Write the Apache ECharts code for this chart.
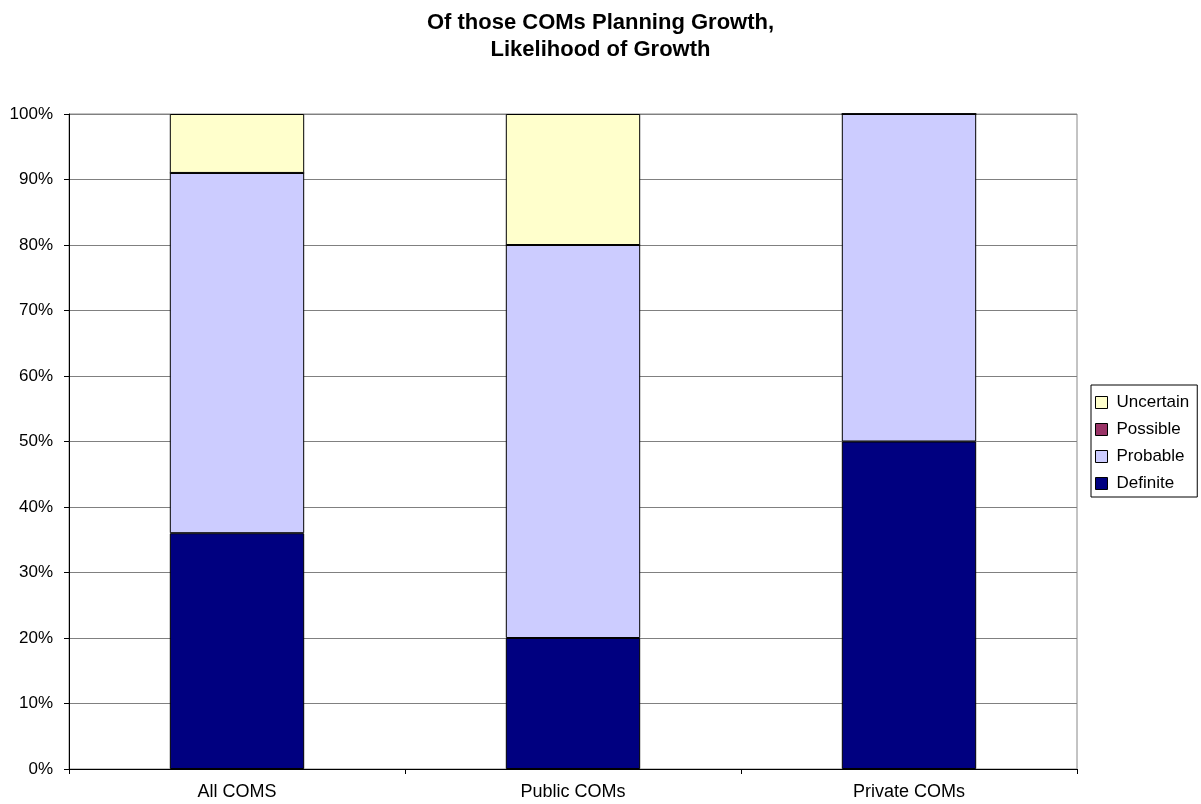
<!DOCTYPE html>
<html>
<head>
<meta charset="utf-8">
<script src="https://cdn.jsdelivr.net/npm/echarts@6/dist/echarts.min.js"></script>
<style>html,body{margin:0;padding:0;background:#fff}#c{width:1201px;height:804px}</style>
</head>
<body>
<div id="c"></div>
<script>
const categories = ['All COMS', 'Public COMs', 'Private COMs'];
const definite = [36, 20, 50];
const probable = [55, 60, 50];
const possible = [0, 0, 0];
const uncertain = [9, 20, 0];
const yTicks = [0, 10, 20, 30, 40, 50, 60, 70, 80, 90, 100];

const chart = echarts.init(document.getElementById('c'));
const font = 'Liberation Sans, Arial, sans-serif';
function bar(name, data, color) {
  return {
    name: name, type: 'bar', stack: 'a', data: data, barWidth: '40%',
    itemStyle: { color: color, borderColor: '#000', borderWidth: 1 },
    emphasis: { disabled: true }
  };
}
chart.setOption({
  animation: false,
  textStyle: { fontFamily: font },
  title: {
    text: 'Of those COMs Planning Growth,\nLikelihood of Growth',
    left: 'center', top: 4,
    textStyle: { fontFamily: font, fontSize: 22, fontWeight: 'bold', color: '#000', lineHeight: 27 }
  },
  legend: {
    orient: 'vertical', left: 1091, top: 385,
    data: ['Uncertain', 'Possible', 'Probable', 'Definite'],
    icon: 'rect', itemWidth: 12, itemHeight: 12, itemGap: 10,
    padding: [9, 8, 5, 4],
    borderColor: '#000', borderWidth: 1,
    itemStyle: { borderColor: '#000', borderWidth: 1 },
    textStyle: { fontFamily: font, fontSize: 17, color: '#000', padding: [0, 0, 0, 4] }
  },
  grid: { left: 69, right: 124, top: 114, bottom: 35, show: true, borderColor: '#888', borderWidth: 1 },
  xAxis: {
    type: 'category', data: categories,
    axisLine: { lineStyle: { color: '#000', width: 1 } },
    axisTick: { show: true, length: 5, inside: false, lineStyle: { color: '#000' } },
    axisLabel: { color: '#000', fontSize: 18, fontFamily: font, margin: 14 }
  },
  yAxis: {
    type: 'value', min: 0, max: 100, interval: 10,
    axisLine: { show: true, lineStyle: { color: '#000', width: 1 } },
    axisTick: { show: true, length: 5, lineStyle: { color: '#000' } },
    axisLabel: {
      color: '#000', fontSize: 17, fontFamily: font, margin: 16,
      formatter: v => yTicks.includes(v) ? v + '%' : ''
    },
    splitLine: { lineStyle: { color: '#808080', width: 1 } }
  },
  series: [
    bar('Definite', definite, '#000080'),
    bar('Probable', probable, '#CCCCFF'),
    bar('Possible', possible, '#993366'),
    bar('Uncertain', uncertain, '#FFFFCC')
  ]
});
</script>
</body>
</html>
